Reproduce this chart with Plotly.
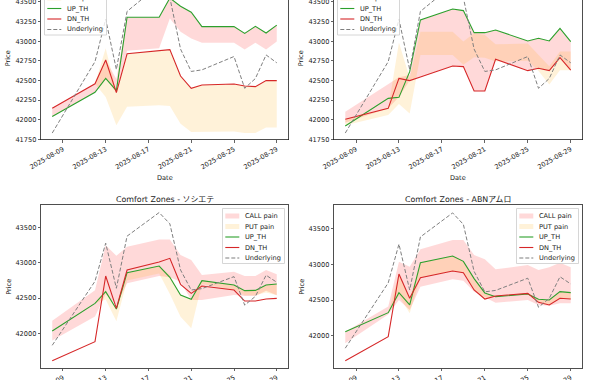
import plotly.graph_objects as go

# ---------------- data ----------------
dates = ["2025-08-08", "2025-08-12", "2025-08-13", "2025-08-14", "2025-08-15",
         "2025-08-18", "2025-08-19", "2025-08-20", "2025-08-21", "2025-08-22",
         "2025-08-25", "2025-08-26", "2025-08-27", "2025-08-28", "2025-08-29"]

underlying = [41830, 42740, 43280, 42640, 43380, 43715, 43555, 42900, 42615, 42635,
              42805, 42400, 42525, 42825, 42725]

# panel 1 (top-left)
p1_up = [42040, 42350, 42527, 42370, 43305, 43305, 43550, 43445, 43370, 43186, 43186, 43100, 43190, 43105, 43205]
p1_dn = [42145, 42458, 42761, 42345, 42840, 42876, 42893, 42557, 42400, 42442, 42455, 42430, 42421, 42498, 42498]
p1_call_hi = [42145, 42458, 42761, 42520, 43305, 43305, 43550, 43445, 43370, 43186, 43186, 43100, 43190, 43105, 43205]
p1_call_lo = [42040, 42350, 42527, 42345, 42880, 42910, 43290, 43120, 43035, 42980, 42980, 42895, 42980, 42895, 42995]
p1_put_hi = [42145, 42458, 42910, 42360, 42840, 42876, 42893, 42557, 42400, 42442, 42455, 42430, 42421, 42498, 42498]
p1_put_lo = [42145, 42458, 42290, 41930, 42165, 42185, 42175, 41950, 41845, 41845, 41850, 41830, 41830, 41900, 41900]

# panel 2 (top-right)
p2_up = [41920, 42272, 42285, 42612, 43271, 43411, 43390, 43109, 43109, 43143, 43003, 43037, 43003, 43164, 42995]
p2_dn = [42005, 42145, 42527, 42498, 42545, 42684, 42676, 42366, 42366, 42770, 42625, 42655, 42625, 42791, 42633]
p2_call_hi = [42100, 42460, 42540, 42570, 43271, 43411, 43390, 43109, 43109, 43143, 43003, 43037, 43003, 43164, 42995]
p2_call_lo = [41960, 42145, 42290, 42500, 42545, 42684, 42676, 42366, 42366, 42770, 42625, 42655, 42625, 42791, 42633]
p2_put_hi = [42005, 42145, 42985, 42530, 43120, 43120, 42995, 43100, 43080, 42960, 42970, 42830, 42680, 42870, 42870]
p2_put_lo = [41930, 42060, 42200, 42080, 42825, 42825, 42700, 42795, 42790, 42740, 42750, 42620, 42450, 42630, 42630]

# panel 3 (bottom-left) - ソシエテ
p3_up = [42033, 42426, 42591, 42345, 42861, 42956, 42795, 42544, 42483, 42748, 42686, 42606, 42610, 42686, 42700]
p3_dn = [41612, 41882, 42814, 42355, 42899, 43013, 43065, 42696, 42568, 42672, 42615, 42459, 42459, 42487, 42497]
p3_call_hi = [42180, 42610, 43250, 43100, 43230, 43334, 43334, 43112, 43041, 42828, 42875, 42814, 42814, 42899, 42838]
p3_call_lo = [41900, 42240, 42560, 42400, 42710, 42814, 42795, 42733, 42473, 42473, 42544, 42530, 42530, 42606, 42540]
p3_put_hi = [42033, 42426, 42620, 42345, 42861, 42956, 42830, 42544, 42483, 42748, 42686, 42606, 42610, 42686, 42700]
p3_put_lo = [42033, 42426, 42480, 42170, 42750, 42850, 42560, 42237, 42071, 42700, 42620, 42540, 42540, 42580, 42540]

# panel 4 (bottom-right) - ABNアムロ
p4_up = [42060, 42325, 42604, 42432, 43022, 43115, 43040, 42800, 42600, 42548, 42585, 42511, 42502, 42618, 42604]
p4_dn = [41656, 41991, 42864, 42525, 42813, 42906, 42882, 42641, 42515, 42557, 42594, 42469, 42432, 42525, 42515]
p4_call_hi = [42060, 42410, 43036, 42966, 43207, 43337, 43337, 43128, 43068, 42929, 42989, 42920, 42957, 43022, 42957]
p4_call_lo = [41898, 42300, 42502, 42362, 42687, 42790, 42771, 42618, 42539, 42464, 42502, 42432, 42420, 42455, 42455]
p4_put_hi = [42060, 42325, 42864, 42525, 43022, 43115, 43040, 42800, 42600, 42557, 42594, 42511, 42502, 42618, 42604]
p4_put_lo = [42060, 42325, 42560, 42316, 42813, 42906, 42882, 42641, 42515, 42548, 42585, 42469, 42432, 42525, 42515]

titles = [None, None, "Comfort Zones - ソシエテ", "Comfort Zones - ABNアムロ"]
legend_labels = ["CALL pain", "PUT pain", "UP_TH", "DN_TH", "Underlying"]
x_tick0 = "2025-08-09"
x_range = ["2025-08-06 22:48", "2025-08-30 01:12"]

# ---------------- styling / layout ----------------
W, H = 590, 380
FONT = "DejaVu Sans, Noto Sans CJK JP, sans-serif"
TXT = "#1a1a1a"
CALL_FILL = "rgba(255,0,0,0.15)"
PUT_FILL = "rgba(255,165,0,0.15)"
UP_COL = "#2ca02c"
DN_COL = "#d62728"
UND_COL = "#7f7f7f"
DASH = "4px,2px"
FS = 6.6


def px(x):
    return x / W


def py(y):
    return (H - y) / H


panels = [
    dict(up=p1_up, dn=p1_dn, ch=p1_call_hi, cl=p1_call_lo, ph=p1_put_hi, pl=p1_put_lo,
         xpx=(41, 288), ypx=(-23.5, 139.5), yr=[41748, 43525], dt=250, leg="ul", top=True),
    dict(up=p2_up, dn=p2_dn, ch=p2_call_hi, cl=p2_call_lo, ph=p2_put_hi, pl=p2_put_lo,
         xpx=(334, 582), ypx=(-23.5, 139.5), yr=[41748, 43525], dt=250, leg="ul", top=True),
    dict(up=p3_up, dn=p3_dn, ch=p3_call_hi, cl=p3_call_lo, ph=p3_put_hi, pl=p3_put_lo,
         xpx=(41, 288), ypx=(205, 368), yr=[41508, 43822], dt=500, leg="ur", top=False),
    dict(up=p4_up, dn=p4_dn, ch=p4_call_hi, cl=p4_call_lo, ph=p4_put_hi, pl=p4_put_lo,
         xpx=(334, 582), ypx=(205, 368), yr=[41554, 43825], dt=500, leg="ur", top=False),
]

fig = go.Figure()
layout = dict(
    width=W, height=H,
    margin=dict(l=0, r=0, t=0, b=0, autoexpand=False),
    paper_bgcolor="white", plot_bgcolor="white",
    showlegend=False,
    font=dict(family=FONT, size=FS, color=TXT),
    hovermode=False,
)
shapes = []
annotations = []

for i, p in enumerate(panels):
    n = "" if i == 0 else str(i + 1)
    xa, ya = "x" + n, "y" + n
    common = dict(x=dates, xaxis=xa, yaxis=ya, mode="lines", hoverinfo="skip")
    fig.add_trace(go.Scatter(y=p["cl"], line=dict(width=0), **common))
    fig.add_trace(go.Scatter(y=p["ch"], line=dict(width=0), fill="tonexty",
                             fillcolor=CALL_FILL, name="CALL pain", **common))
    fig.add_trace(go.Scatter(y=p["pl"], line=dict(width=0), **common))
    fig.add_trace(go.Scatter(y=p["ph"], line=dict(width=0), fill="tonexty",
                             fillcolor=PUT_FILL, name="PUT pain", **common))
    fig.add_trace(go.Scatter(y=p["up"], line=dict(color=UP_COL, width=1.1), name="UP_TH", **common))
    fig.add_trace(go.Scatter(y=p["dn"], line=dict(color=DN_COL, width=1.1), name="DN_TH", **common))
    fig.add_trace(go.Scatter(y=underlying, line=dict(color=UND_COL, width=1.0, dash=DASH),
                             name="Underlying", **common))

    x0, x1 = p["xpx"]
    ytop, ybot = p["ypx"]
    layout["xaxis" + n] = dict(
        domain=[px(x0), px(x1)], anchor=ya, type="date", range=x_range,
        tick0=x_tick0, dtick=4 * 86400000, tickformat="%Y-%m-%d", tickangle=-30,
        ticks="outside", ticklen=2.5, tickwidth=0.7, tickcolor="#222",
        showline=True, linecolor="#222", linewidth=0.8, mirror=not p["top"],
        showgrid=False, zeroline=False, tickfont=dict(size=FS, color=TXT),
        ticklabeloverflow="allow",
    )
    layout["yaxis" + n] = dict(
        domain=[py(ybot), min(1.0, py(ytop))], anchor=xa, range=p["yr"],
        tick0=0, dtick=p["dt"], tickformat="d",
        ticks="outside", ticklen=2.5, tickwidth=0.7, tickcolor="#222",
        showline=True, linecolor="#222", linewidth=0.8, mirror=True,
        showgrid=False, zeroline=False, tickfont=dict(size=FS, color=TXT),
        ticklabeloverflow="allow",
    )

    ymid = (ytop + ybot) / 2
    annotations.append(dict(text="Price", x=px(x0 - 32.7), y=py(ymid), xref="paper", yref="paper",
                            showarrow=False, textangle=-90, xanchor="center", yanchor="middle",
                            font=dict(size=FS, color=TXT)))
    if p["top"]:
        annotations.append(dict(text="Date", x=px((x0 + x1) / 2), y=py(178), xref="paper", yref="paper",
                                showarrow=False, xanchor="center", yanchor="middle",
                                font=dict(size=FS, color=TXT)))
    if titles[i]:
        annotations.append(dict(text=titles[i], x=px((x0 + x1) / 2), y=py(199), xref="paper", yref="paper",
                                showarrow=False, xanchor="center", yanchor="middle",
                                font=dict(size=7.9, color=TXT)))

    # legend (matplotlib-like box)
    lw, lh = 62, 55
    left = x0 + 3.5 if p["leg"] == "ul" else x1 - 3.5 - lw
    top = ytop + 3.5
    shapes.append(dict(type="rect", xref="paper", yref="paper", layer="above",
                       x0=px(left), x1=px(left + lw), y0=py(top + lh), y1=py(top),
                       fillcolor="rgba(255,255,255,0.8)", line=dict(color="#cccccc", width=0.8)))
    styles = [("patch", CALL_FILL), ("patch", PUT_FILL), ("line", UP_COL), ("line", DN_COL), ("dash", UND_COL)]
    for k, (lab, (kind, col)) in enumerate(zip(legend_labels, styles)):
        yc = top + 7.5 + 10.5 * k
        hx0, hx1 = left + 2.8, left + 16.8
        if kind == "patch":
            shapes.append(dict(type="rect", xref="paper", yref="paper", layer="above",
                               x0=px(hx0), x1=px(hx1), y0=py(yc + 2.5), y1=py(yc - 2.5),
                               fillcolor=col, line=dict(width=0)))
        else:
            shapes.append(dict(type="line", xref="paper", yref="paper", layer="above",
                               x0=px(hx0), x1=px(hx1), y0=py(yc), y1=py(yc),
                               line=dict(color=col, width=1.1,
                                         dash=DASH if kind == "dash" else "solid")))
        annotations.append(dict(text=lab, x=px(left + 20.5), y=py(yc), xref="paper", yref="paper",
                                showarrow=False, xanchor="left", yanchor="middle",
                                font=dict(size=FS, color=TXT)))

layout["shapes"] = shapes
layout["annotations"] = annotations
fig.update_layout(**layout)
fig.write_html(
    "out.html",
    config={"displayModeBar": False, "staticPlot": True},
    post_script="document.body.style.margin='0';document.body.style.overflow='hidden';"
                "document.documentElement.style.overflow='hidden';",
)
